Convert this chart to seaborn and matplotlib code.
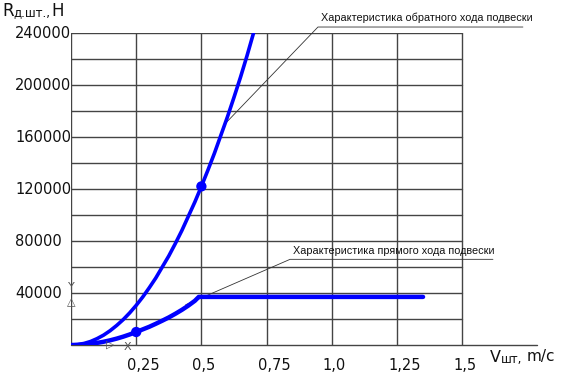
import pandas as pd
import seaborn as sns
import matplotlib.pyplot as plt

# characteristic of the rebound stroke (обратный ход)
v_reb = [0.0, 0.025, 0.05, 0.075, 0.1, 0.125, 0.15, 0.175, 0.2, 0.225, 0.25, 0.275, 0.3, 0.325,
         0.35, 0.375, 0.4, 0.425, 0.45, 0.475, 0.5, 0.525, 0.55, 0.575, 0.6, 0.625, 0.65, 0.675, 0.7]
r_reb = [0, 300, 1200, 2700, 4900, 7600, 11000, 15000, 19500, 24700, 30500, 36900, 44000, 51500,
         60000, 68500, 78000, 88000, 99000, 110000, 122000, 134500, 147500, 161500, 175500, 190500,
         206000, 222500, 240000]

# characteristic of the compression stroke (прямой ход)
v_comp = [0.0, 0.025, 0.05, 0.075, 0.1, 0.125, 0.15, 0.175, 0.2, 0.225, 0.25, 0.275, 0.3, 0.325,
          0.35, 0.375, 0.4, 0.425, 0.45, 0.475, 0.49, 1.35]
r_comp = [0, 100, 400, 900, 1600, 2500, 3600, 4900, 6400, 8100, 10000, 12000, 14000, 16300,
          18700, 21200, 24000, 27000, 30300, 34000, 37000, 37000]

dot_v = [0.25, 0.5]
dot_r = [10000, 122000]

x_ticks = [0.25, 0.5, 0.75, 1.0, 1.25, 1.5]
x_labels = ['0,25', '0,5', '0,75', '1,0', '1,25', '1,5']
y_ticks = [40000, 80000, 120000, 160000, 200000, 240000]
y_grid = [20000, 40000, 60000, 80000, 100000, 120000, 140000, 160000, 180000, 200000, 220000, 240000]

ann_reb = 'Характеристика обратного хода подвески'
ann_comp = 'Характеристика прямого хода подвески'

sns.set_style('white')
plt.rcParams['font.family'] = ['DejaVu Sans']

W, H = 568, 376
fig = plt.figure(figsize=(W / 100, H / 100), dpi=100)
# axes: x=0 at px 71, x-axis end at px 537; y=0 at px 345, 240000 at px 33
ax = fig.add_axes([71 / W, (H - 345) / H, (537 - 71) / W, (345 - 33) / H])
ax.set_xlim(0, 1.787)
ax.set_ylim(0, 240000)
for s in ax.spines.values():
    s.set_visible(False)
ax.set_xticks([])
ax.set_yticks([])

gc = '#444444'
for x in x_ticks:
    ax.plot([x, x], [0, 240000], color=gc, lw=1.0, zorder=1)
for y in y_grid:
    ax.plot([0, 1.5], [y, y], color=gc, lw=1.0, zorder=1)
ax.plot([0, 0], [0, 240000], color=gc, lw=1.0, zorder=1)
ax.plot([0, 1.787], [0, 0], color=gc, lw=1.0, zorder=1, clip_on=False)

# curves
reb = pd.DataFrame({'v': v_reb, 'r': r_reb})
comp = pd.DataFrame({'v': v_comp, 'r': r_comp})
sns.lineplot(data=reb, x='v', y='r', ax=ax, color='#0000ff', lw=2.6, sort=False, zorder=3,
             solid_capstyle='round', solid_joinstyle='round')
sns.lineplot(data=comp, x='v', y='r', ax=ax, color='#0000ff', lw=3.2, sort=False, zorder=3,
             solid_capstyle='round', solid_joinstyle='round')
sns.scatterplot(x=dot_v, y=dot_r, ax=ax, color='#0000ff', s=55, edgecolor='none', zorder=4)
ax.set_xlabel('')
ax.set_ylabel('')

# tick labels (CAD style: x labels start just left of the grid line, y labels share a left edge)
for x, lab in zip(x_ticks, x_labels):
    ax.text(x - 0.0345, -15400, lab, ha='left', va='center', fontsize=10.5, color='#111111', clip_on=False)
for y in y_ticks:
    ax.text(-56 / 260.8, y, str(y), ha='left', va='center', fontsize=10.5, color='#111111', clip_on=False)

# leader lines with underlined captions
ax.plot([0.59, 0.947, 1.733], [170000, 244600, 244600], color='#333333', lw=0.6, clip_on=False, zorder=2)
ax.text(0.96, 247500, ann_reb, ha='left', va='bottom', fontsize=7.8,
        family=['Liberation Sans'], color='#111111')
ax.plot([0.44, 0.84, 1.618], [31000, 65900, 65900], color='#333333', lw=0.6, clip_on=False, zorder=2)
ax.text(0.85, 68500, ann_comp, ha='left', va='bottom', fontsize=7.8,
        family=['Liberation Sans'], color='#111111')

# UCS icon near the origin
ax.text(0.0, 44500, 'Y', ha='center', va='center', fontsize=8, color='#555555')
ax.text(0.0, 32500, '△', ha='center', va='center', fontsize=8, color='#555555')
ax.text(0.15, 500, '▷', ha='center', va='center', fontsize=8, color='#555555', clip_on=False)
ax.text(0.215, -1800, 'X', ha='center', va='center', fontsize=8, color='#555555', clip_on=False)

# axis titles
fig.text(2 / W, 1 - 11 / H, 'R', ha='left', va='center', fontsize=12, color='#111111')
fig.text(13 / W, 1 - 13 / H, 'д.шт.,', ha='left', va='center', fontsize=8.5, color='#111111')
fig.text(51 / W, 1 - 11 / H, 'H', ha='left', va='center', fontsize=12, color='#111111')
fig.text(490 / W, 1 - 357 / H, 'V', ha='left', va='center', fontsize=11.5, color='#111111')
fig.text(501 / W, 1 - 359 / H, 'шт,', ha='left', va='center', fontsize=8.5, color='#111111')
fig.text(527 / W, 1 - 357 / H, 'm/c', ha='left', va='center', fontsize=11, color='#111111')

fig.savefig('out.png', dpi=100, facecolor='white')
